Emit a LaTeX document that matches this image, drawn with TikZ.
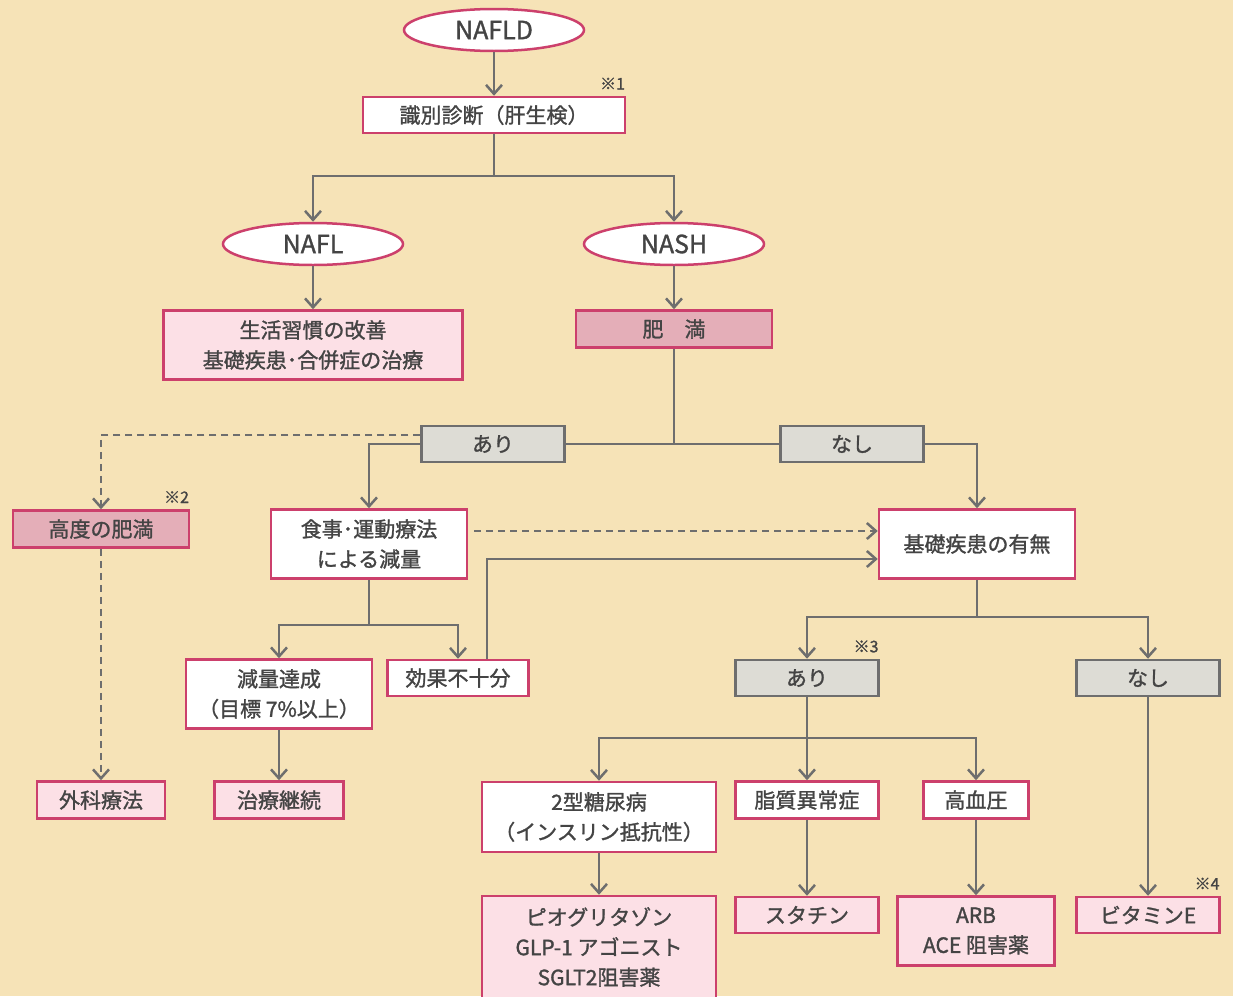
\documentclass[tikz,border=0pt]{standalone}
\usepackage{fontspec}
\setmainfont{Noto Sans CJK JP}[RawFeature={embolden=1.3}]
\usetikzlibrary{arrows.meta,shapes.geometric}
\definecolor{bgc}{RGB}{246,227,183}
\definecolor{pinkl}{RGB}{204,64,108}
\definecolor{pinkf}{RGB}{252,224,230}
\definecolor{pinkd}{RGB}{228,174,184}
\definecolor{grayf}{RGB}{221,220,213}
\definecolor{grayl}{RGB}{110,110,110}
\definecolor{txtc}{RGB}{68,68,68}
\tikzset{
	flownode/.style = {align=center, inner sep=0pt, text centered, text=txtc,
		font=\fontsize{21}{30}\selectfont, line width=2.5pt},
	ell_n/.style = {flownode, ellipse, draw=pinkl, fill=white,
		minimum width=180pt, minimum height=42pt, font=\fontsize{25}{28}\selectfont},
	box_w/.style = {flownode, rectangle, draw=pinkl, fill=white},
	box_p/.style = {flownode, rectangle, draw=pinkl, fill=pinkf},
	box_d/.style = {flownode, rectangle, draw=pinkl, fill=pinkd},
	box_g/.style = {flownode, rectangle, draw=grayl, fill=grayf},
	note_n/.style = {inner sep=0pt, text=txtc, font=\fontsize{16}{16}\selectfont},
	dash_l/.style = {dash pattern=on 7pt off 5pt}
}
\begin{document}
\begin{tikzpicture}[x=1pt,y=-1pt,line width=2.5pt,draw=grayl,
	>={Straight Barb[length=9pt,width=16pt]}]
\useasboundingbox (0,0) rectangle (1233,996);
\fill[bgc] (0,0) rectangle (1233,996);
\node [ell_n] (nafld) at (494,30) {NAFLD};
\node [box_w, minimum width=262pt, minimum height=36pt] (shindan) at (494,115) {識別診断（肝生検）};
\node [ell_n] (nafl) at (313,244) {NAFL};
\node [ell_n] (nash) at (674,244) {NASH};
\node [box_p, minimum width=299pt, minimum height=69pt] (seikatsu) at (313,345) {生活習慣の改善\\基礎疾患･合併症の治療};
\node [box_d, minimum width=196pt, minimum height=37pt] (himan) at (674,329) {肥　満};
\node [box_g, minimum width=143pt, minimum height=36pt] (ari) at (493,444) {あり};
\node [box_g, minimum width=143pt, minimum height=36pt] (nashi) at (852,444) {なし};
\node [box_d, minimum width=176pt, minimum height=37pt] (kodo) at (101,529) {高度の肥満};
\node [box_w, minimum width=196pt, minimum height=69pt] (shokuji) at (369,544) {食事･運動療法\\による減量};
\node [box_w, minimum width=196pt, minimum height=69pt] (kiso) at (977,544) {基礎疾患の有無};
\node [box_w, minimum width=186pt, minimum height=69pt] (genryo) at (279,694) {減量達成\\（目標 7\%以上）};
\node [box_w, minimum width=141pt, minimum height=36pt] (kouka) at (458,678) {効果不十分};
\node [box_p, minimum width=128pt, minimum height=37pt] (geka) at (101,800) {外科療法};
\node [box_p, minimum width=129pt, minimum height=37pt] (keizoku) at (279,800) {治療継続};
\node [box_g, minimum width=143pt, minimum height=36pt] (ari2) at (807,678) {あり};
\node [box_g, minimum width=143pt, minimum height=36pt] (nashi2) at (1148,678) {なし};
\node [box_w, minimum width=234pt, minimum height=70pt] (tonyo) at (599,817) {2型糖尿病\\（インスリン抵抗性）};
\node [box_w, minimum width=143pt, minimum height=37pt] (shishitsu) at (807,800) {脂質異常症};
\node [box_w, minimum width=105pt, minimum height=37pt] (koketsu) at (976,800) {高血圧};
\node [box_p, minimum width=234pt, minimum height=102pt] (kusuri) at (599,947) {ピオグリタゾン\\GLP-1 アゴニスト\\SGLT2阻害薬};
\node [box_p, minimum width=143pt, minimum height=36pt] (statin) at (807,915) {スタチン};
\node [box_p, minimum width=157pt, minimum height=69pt] (arb) at (976,931) {ARB\\ACE 阻害薬};
\node [box_p, minimum width=143pt, minimum height=36pt] (vitamin) at (1148,915) {ビタミンE};
\node [note_n, anchor=south east] (note1) at ([yshift=5pt]shindan.north east) {※1};
\node [note_n, anchor=south east] (note2) at ([yshift=5pt]kodo.north east) {※2};
\node [note_n, anchor=south east] (note3) at ([yshift=5pt]ari2.north east) {※3};
\node [note_n, anchor=south east] (note4) at ([yshift=5pt]vitamin.north east) {※4};
\coordinate (j1) at (494,176);
\coordinate (j2) at (369,625);
\coordinate (j3) at (977,617);
\coordinate (j4) at (807,738);
\draw[->] (nafld) -- (shindan);
\draw (shindan) -- (j1);
\draw[->] (j1) -| (nafl);
\draw[->] (j1) -| (nash);
\draw[->] (nafl) -- (seikatsu);
\draw[->] (nash) -- (himan);
\draw (himan) -- (himan |- ari.east);
\draw (ari) -- (nashi);
\draw[->] (ari.west) -| (shokuji);
\draw[->,dash_l] ([yshift=9pt]ari.west) -| (kodo);
\draw[->,dash_l] (kodo) -- (geka);
\draw[->] (nashi.east) -| (kiso);
\draw[->,dash_l] ([xshift=6pt,yshift=13pt]shokuji.east) -- ([yshift=13pt]kiso.west);
\draw (shokuji) -- (j2);
\draw[->] (j2) -| (genryo);
\draw[->] (j2) -| (kouka);
\draw[->] ([xshift=29pt]kouka.north) |- ([yshift=-15pt]kiso.west);
\draw[->] (genryo) -- (keizoku);
\draw (kiso) -- (j3);
\draw[->] (j3) -| (ari2);
\draw[->] (j3) -| (nashi2);
\draw (ari2) -- (j4);
\draw[->] (j4) -| (tonyo);
\draw[->] (j4) -- (shishitsu);
\draw[->] (j4) -| (koketsu);
\draw[->] (tonyo) -- (kusuri);
\draw[->] (shishitsu) -- (statin);
\draw[->] (koketsu) -- (arb);
\draw[->] (nashi2) -- (vitamin);
\end{tikzpicture}
\end{document}
